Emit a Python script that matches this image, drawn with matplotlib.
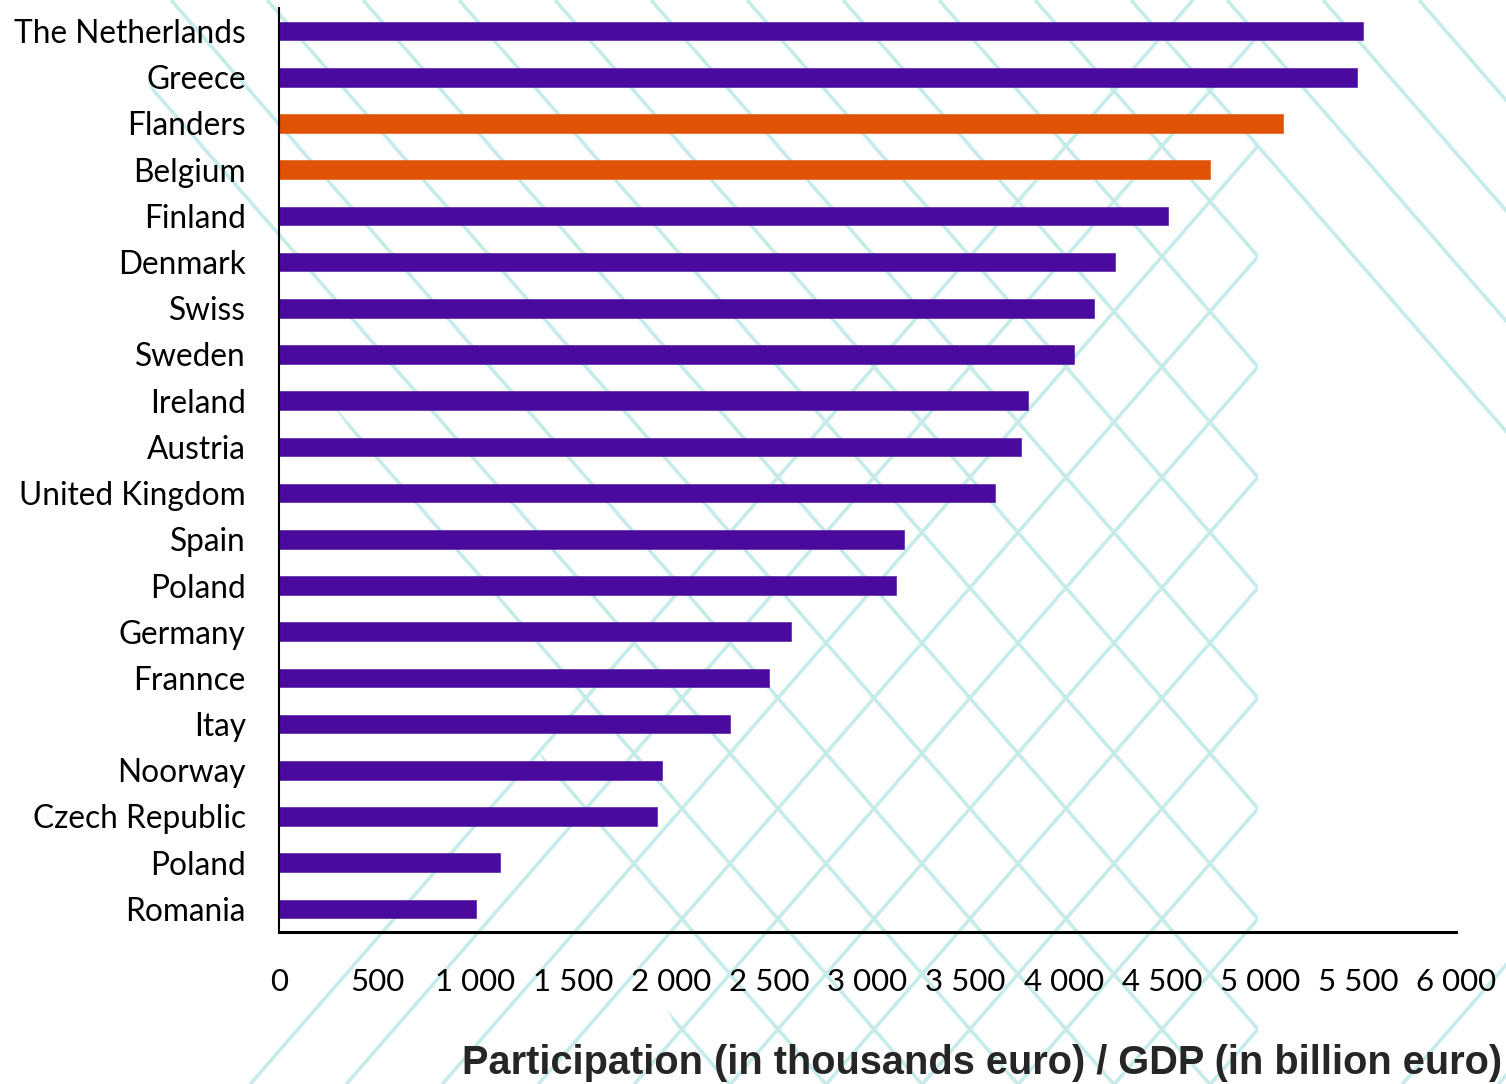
import matplotlib
matplotlib.use("Agg")
import matplotlib.pyplot as plt
from matplotlib.patches import Polygon
from matplotlib.ticker import FuncFormatter
import numpy as np

# ---------------- data ----------------
countries = ["The Netherlands", "Greece", "Flanders", "Belgium", "Finland", "Denmark",
             "Swiss", "Sweden", "Ireland", "Austria", "United Kingdom", "Spain", "Poland",
             "Germany", "Frannce", "Itay", "Noorway", "Czech Republic", "Poland", "Romania"]
values = [5525, 5495, 5120, 4745, 4530, 4260, 4155, 4055, 3820, 3780, 3650, 3185, 3145,
          2610, 2500, 2300, 1950, 1925, 1125, 1005]
highlight = ["Flanders", "Belgium"]
x_ticks = [0, 500, 1000, 1500, 2000, 2500, 3000, 3500, 4000, 4500, 5000, 5500, 6000]
x_label = "Participation (in thousands euro) / GDP (in billion euro)"

PURPLE = "#4a0a9e"
ORANGE = "#e05206"
TEAL = "#c6ebeb"

W, H = 1506, 1084
fig = plt.figure(figsize=(W / 100, H / 100), dpi=100)
fig.patch.set_facecolor("white")

# ---------------- decorative background lattice ----------------
bg = fig.add_axes([0, 0, 1, 1], zorder=0)
bg.set_xlim(0, W)
bg.set_ylim(H, 0)
bg.axis("off")

slope = 1.15
spacing = 96
d_phase, u_phase = 75, 41
poly_d = Polygon([(110, 0), (W, 0), (W, 440), (1258, 150), (1258, H), (700, H),
                  (620, 900), (400, 500), (230, 260)], closed=True,
                 transform=bg.transData, facecolor="none", edgecolor="none")
poly_u = Polygon([(200, H), (1100, 0), (1258, 0), (1258, H)], closed=True,
                 transform=bg.transData, facecolor="none", edgecolor="none")
poly_u2 = Polygon([(1380, H), (W, H), (W, 930)], closed=True,
                  transform=bg.transData, facecolor="none", edgecolor="none")
bg.add_patch(poly_d)
bg.add_patch(poly_u)
bg.add_patch(poly_u2)
for k in range(-16, 20):
    x0 = d_phase + spacing * k
    ln, = bg.plot([x0, x0 + H / slope], [0, H], color=TEAL, lw=2.6,
                  solid_capstyle="butt")
    ln.set_clip_path(poly_d)
for k in range(-2, 30):
    x0 = u_phase + spacing * k
    for poly in (poly_u, poly_u2):
        ln, = bg.plot([x0, x0 - H / slope], [0, H], color=TEAL, lw=2.6,
                      solid_capstyle="butt")
        ln.set_clip_path(poly)

# ---------------- main chart ----------------
left, right, top, bottom = 279, 1456, 8, 932
ax = fig.add_axes([left / W, (H - bottom) / H, (right - left) / W, (bottom - top) / H],
                  zorder=2)
ax.patch.set_alpha(0)

pos = np.arange(len(countries))
colors = [ORANGE if c in highlight else PURPLE for c in countries]
ax.barh(pos, values, height=0.40, color=colors, edgecolor=colors, linewidth=0.4)

ax.set_ylim(len(countries) - 0.5, -0.5)
ax.set_xlim(0, 6000)
ax.set_yticks(pos)
ax.set_yticklabels(countries)
ax.set_xticks(x_ticks)
ax.xaxis.set_major_formatter(FuncFormatter(lambda v, p: f"{int(v):,}".replace(",", " ")))

label_font = "Lato"
for t in ax.get_yticklabels():
    t.set_fontfamily(label_font)
    t.set_fontsize(22.8)
    t.set_color("black")
for t in ax.get_xticklabels():
    t.set_fontfamily(label_font)
    t.set_fontsize(22.5)
    t.set_color("black")

ax.tick_params(axis="y", length=0, pad=24)
ax.tick_params(axis="x", length=0, pad=26)

for s in ["top", "right"]:
    ax.spines[s].set_visible(False)
ax.spines["left"].set_linewidth(1.5)
ax.spines["bottom"].set_linewidth(2.2)
ax.spines["left"].set_color("black")
ax.spines["bottom"].set_color("black")

fig.text(1502 / W, (H - 1063) / H, x_label, ha="right", va="center",
         fontsize=28.6, fontweight="bold", family="Liberation Sans", color="#262626")

fig.savefig("out.png", dpi=100, facecolor="white")
